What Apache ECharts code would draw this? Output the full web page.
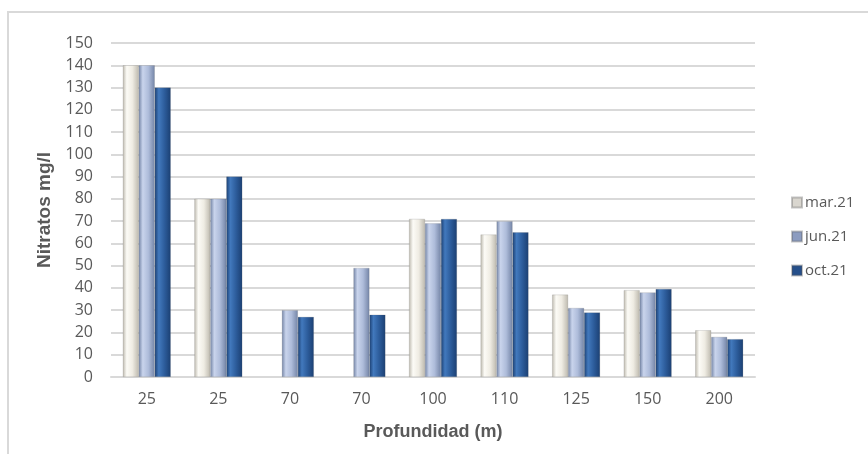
<!DOCTYPE html>
<html>
<head>
<meta charset="utf-8">
<script src="https://cdn.jsdelivr.net/npm/echarts@6/dist/echarts.min.js"></script>
<style>
  html, body { margin: 0; padding: 0; background: #fff; }
  .frame {
    position: absolute; left: 7px; top: 11px; width: 900px; height: 460px;
    border-left: 2px solid #d9d9d9; border-top: 2px solid #d9d9d9;
  }
  #chart { position: absolute; left: 0; top: 0; width: 868px; height: 454px; }
</style>
</head>
<body>
<div class="frame"></div>
<div id="chart"></div>
<script>
// profundidad de cada pozo (m)
const depths = ['25', '25', '70', '70', '100', '110', '125', '150', '200'];
const seriesNames = ['mar.21', 'jun.21', 'oct.21'];
// nitratos mg/l
const mar21 = [140, 80, null, null, 71, 64, 37, 39, 21];
const jun21 = [140, 80, 30, 49, 69, 70, 31, 38, 18];
const oct21 = [130, 90, 27, 28, 71, 65, 29, 39.5, 17];

const labelFont = "'Open Sans', 'Noto Sans', sans-serif";
const titleFont = "'Liberation Sans', Arial, sans-serif";

function barGrad(dark, mid, light) {
  return new echarts.graphic.LinearGradient(0, 0, 1, 0, [
    { offset: 0, color: dark },
    { offset: 0.25, color: light },
    { offset: 0.6, color: mid },
    { offset: 1, color: dark }
  ]);
}

const styles = [
  { fill: barGrad('#bdb9ae', '#efece3', '#fcfbf6'), icon: '#d9d6cf' },
  { fill: barGrad('#7384a6', '#aebcda', '#c9d4ec'), icon: '#8c9cc0' },
  { fill: barGrad('#1b3f72', '#2d5d9c', '#4279bd'), icon: '#254f8a' }
];

const chart = echarts.init(document.getElementById('chart'));
chart.setOption({
  animation: false,
  grid: { left: 111, right: 113, top: 43, bottom: 77 },
  legend: {
    orient: 'vertical',
    left: 786,
    top: 190,
    itemGap: 19,
    itemWidth: 10,
    itemHeight: 10,
    icon: 'rect',
    textStyle: { color: '#595959', fontSize: 15, fontFamily: labelFont, padding: [0, 0, 0, -2] },
    data: seriesNames.map((n, i) => ({ name: n, itemStyle: { color: styles[i].icon } }))
  },
  xAxis: {
    type: 'category',
    data: depths,
    name: 'Profundidad (m)',
    nameLocation: 'middle',
    nameGap: 46,
    nameTextStyle: { color: '#595959', fontSize: 18, fontWeight: 'bold', fontFamily: titleFont },
    axisLine: { lineStyle: { color: '#d9d9d9', width: 2 } },
    axisTick: { show: false },
    axisLabel: { color: '#595959', fontSize: 16, margin: 14, fontFamily: labelFont }
  },
  yAxis: {
    type: 'value',
    min: 0,
    max: 150,
    interval: 10,
    name: 'Nitratos mg/l',
    nameLocation: 'middle',
    nameGap: 54,
    nameTextStyle: { color: '#595959', fontSize: 19, fontWeight: 'bold', fontFamily: titleFont },
    axisLine: { show: false },
    axisTick: { show: false },
    axisLabel: { color: '#595959', fontSize: 16, margin: 18, fontFamily: labelFont },
    splitLine: { lineStyle: { color: '#d9d9d9', width: 2 } }
  },
  series: [mar21, jun21, oct21].map((d, i) => ({
    name: seriesNames[i],
    type: 'bar',
    data: d,
    barGap: '0%',
    barCategoryGap: '33%',
    itemStyle: { color: styles[i].fill, borderColor: 'rgba(90,90,90,0.35)', borderWidth: 0.5 }
  }))
});
</script>
</body>
</html>
